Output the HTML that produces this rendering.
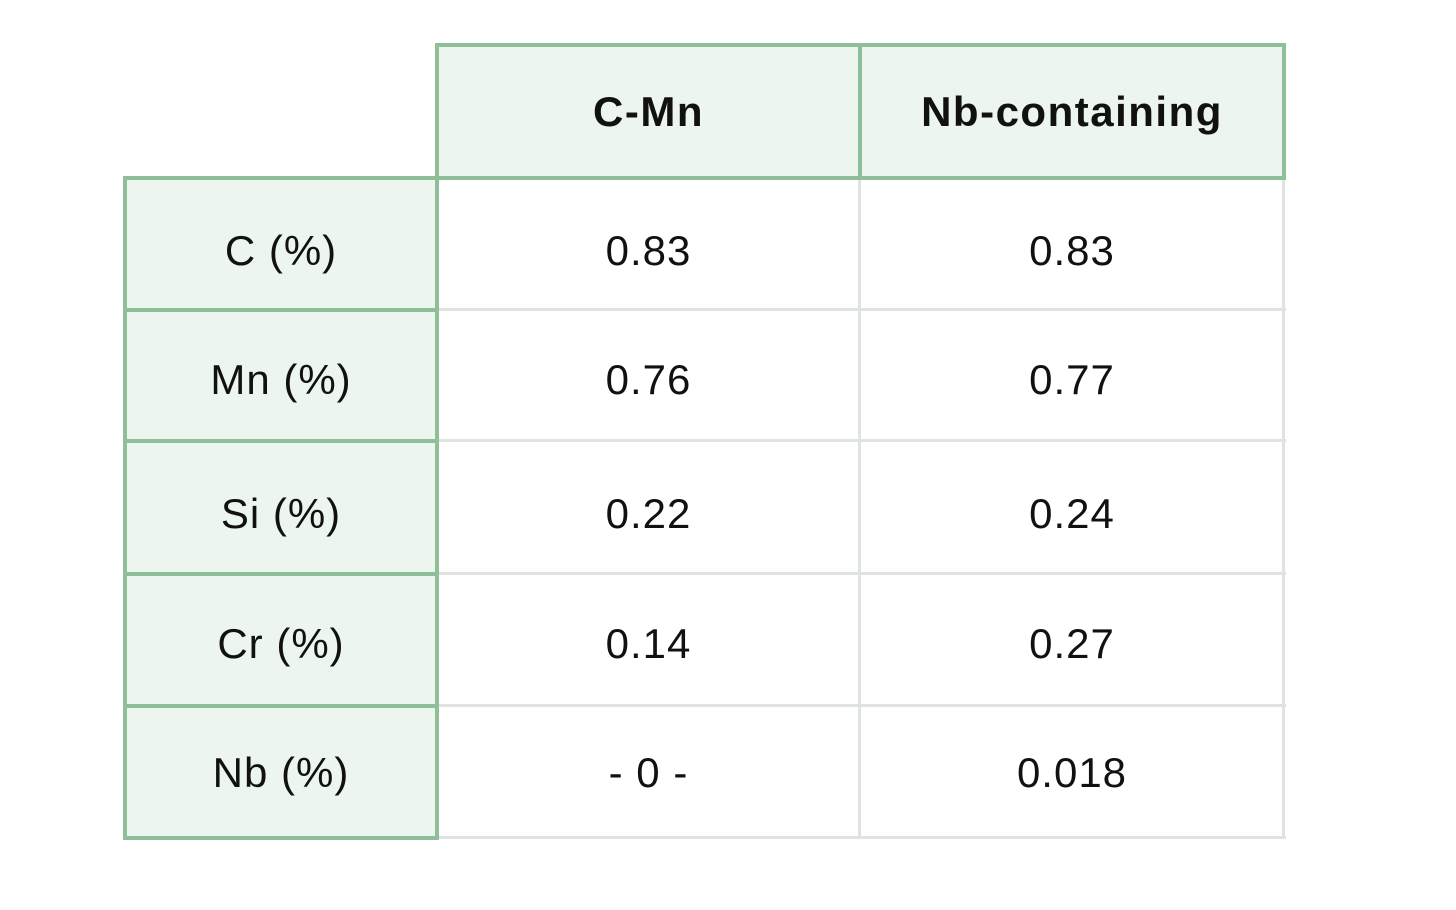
<!DOCTYPE html>
<html><head><style>
body{margin:0;width:1456px;height:910px;background:#fff;position:relative;font-family:"Liberation Sans",sans-serif;overflow:hidden}
.c{position:absolute;display:flex;align-items:center;justify-content:center;font-size:42px;color:#111;letter-spacing:1px;box-sizing:border-box}
.h{font-weight:bold;letter-spacing:1.5px}
.g{background:#ecf5ee}
.l{position:absolute}
.gl{background:#8fbf98}
.gr{background:#dfe3e1}
</style></head><body>
<div class="c g h" style="left:437px;top:45px;width:423px;height:133px">C-Mn</div>
<div class="c g h" style="left:860px;top:45px;width:424px;height:133px">Nb-containing</div>
<div class="c g" style="left:125px;top:178px;width:312px;height:660px"></div>
<div class="c" style="left:125px;top:178px;width:312px;height:146px">C (%)</div>
<div class="c" style="left:437px;top:178px;width:423px;height:146px">0.83</div>
<div class="c" style="left:860px;top:178px;width:424px;height:146px">0.83</div>
<div class="c" style="left:125px;top:310px;width:312px;height:140px">Mn (%)</div>
<div class="c" style="left:437px;top:310px;width:423px;height:140px">0.76</div>
<div class="c" style="left:860px;top:310px;width:424px;height:140px">0.77</div>
<div class="c" style="left:125px;top:441px;width:312px;height:146px">Si (%)</div>
<div class="c" style="left:437px;top:441px;width:423px;height:146px">0.22</div>
<div class="c" style="left:860px;top:441px;width:424px;height:146px">0.24</div>
<div class="c" style="left:125px;top:574px;width:312px;height:140px">Cr (%)</div>
<div class="c" style="left:437px;top:574px;width:423px;height:140px">0.14</div>
<div class="c" style="left:860px;top:574px;width:424px;height:140px">0.27</div>
<div class="c" style="left:125px;top:706px;width:312px;height:134px">Nb (%)</div>
<div class="c" style="left:437px;top:706px;width:423px;height:134px">- 0 -</div>
<div class="c" style="left:860px;top:706px;width:424px;height:134px">0.018</div>
<div class="l gr" style="left:437px;top:308px;width:849px;height:3px"></div>
<div class="l gr" style="left:437px;top:439px;width:849px;height:3px"></div>
<div class="l gr" style="left:437px;top:572px;width:849px;height:3px"></div>
<div class="l gr" style="left:437px;top:704px;width:849px;height:3px"></div>
<div class="l gr" style="left:437px;top:836px;width:849px;height:3px"></div>
<div class="l gr" style="left:858px;top:178px;width:3px;height:661px"></div>
<div class="l gr" style="left:1282px;top:178px;width:3px;height:661px"></div>
<div class="l gl" style="left:435px;top:43px;width:851px;height:4px"></div>
<div class="l gl" style="left:123px;top:176px;width:1163px;height:4px"></div>
<div class="l gl" style="left:435px;top:43px;width:4px;height:797px"></div>
<div class="l gl" style="left:858px;top:43px;width:4px;height:137px"></div>
<div class="l gl" style="left:1282px;top:43px;width:4px;height:137px"></div>
<div class="l gl" style="left:123px;top:176px;width:4px;height:664px"></div>
<div class="l gl" style="left:123px;top:308px;width:316px;height:4px"></div>
<div class="l gl" style="left:123px;top:439px;width:316px;height:4px"></div>
<div class="l gl" style="left:123px;top:572px;width:316px;height:4px"></div>
<div class="l gl" style="left:123px;top:704px;width:316px;height:4px"></div>
<div class="l gl" style="left:123px;top:836px;width:316px;height:4px"></div>
</body></html>
